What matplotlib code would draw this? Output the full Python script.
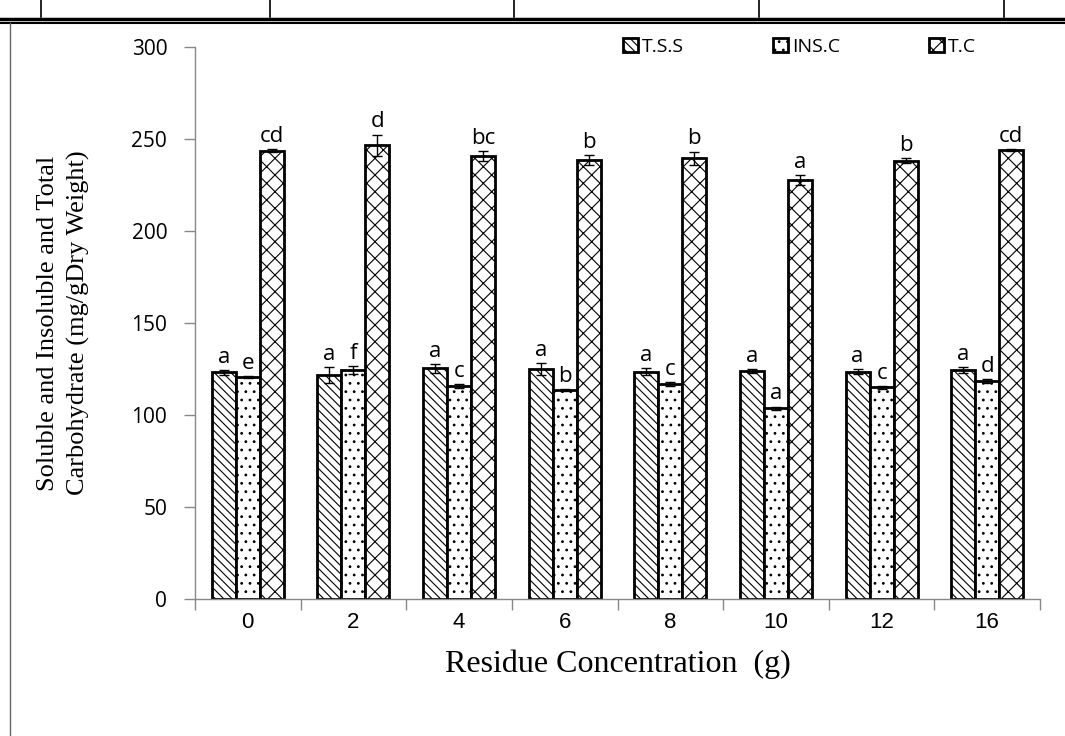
import matplotlib
matplotlib.use("Agg")
import matplotlib.pyplot as plt
import numpy as np
from matplotlib.lines import Line2D

categories = ["0", "2", "4", "6", "8", "10", "12", "16"]
tss = [123.2, 121.7, 125.4, 125.0, 123.6, 123.9, 123.6, 124.5]
tss_err = [1.3, 4.5, 2.4, 3.4, 1.8, 1.1, 1.3, 1.5]
insc = [120.8, 124.5, 115.9, 113.6, 116.7, 103.6, 115.0, 118.5]
insc_err = [0.5, 2.2, 1.0, 0.6, 1.0, 1.0, 0.7, 1.0]
tc = [243.7, 246.6, 240.9, 238.6, 239.5, 227.7, 238.2, 244.0]
tc_err = [1.0, 5.8, 2.7, 2.7, 3.6, 2.7, 1.3, 0.5]
tss_letters = ["a"] * 8
insc_letters = ["e", "f", "c", "b", "c", "a", "c", "d"]
tc_letters = ["cd", "d", "bc", "b", "b", "a", "b", "cd"]
series_names = ["T.S.S", "INS.C", "T.C"]

plt.rcParams['hatch.linewidth'] = 0.8
fig = plt.figure(figsize=(10.65, 7.36), dpi=100)
ax = fig.add_axes([195/1065, 1 - 599/736, 845/1065, 552/736])

x = np.arange(len(categories))
w = 0.227
hatches = ['\\\\\\\\', '..', 'xx']
series = [(tss, tss_err, tss_letters), (insc, insc_err, insc_letters), (tc, tc_err, tc_letters)]
for i, (vals, errs, letters) in enumerate(series):
    pos = x + (i - 1) * w
    ax.bar(pos, vals, w, color='white', edgecolor='black', linewidth=2,
           hatch=hatches[i], label=series_names[i], zorder=2)
    ax.errorbar(pos, vals, yerr=errs, fmt='none', ecolor='black', elinewidth=1,
                capsize=3.5, capthick=1, zorder=3)
    for p, v, e, l in zip(pos, vals, errs, letters):
        ax.text(p, v + e + 1.2, l, ha='center', va='bottom', fontsize=16,
                family='Open Sans', color='black')

ax.set_xlim(-0.5, len(categories) - 0.5)
ax.set_ylim(0, 300)
ax.set_yticks([0, 50, 100, 150, 200, 250, 300])
ax.set_xticks(x)
ax.set_xticklabels(categories, family='Liberation Sans', fontsize=16)
ax.set_xticks(np.arange(-0.5, len(categories), 1.0), minor=True)
ax.tick_params(axis='x', which='major', length=0, pad=9)
ax.tick_params(axis='x', which='minor', length=8, direction='out', color='#888888', width=1)
ax.tick_params(axis='y', length=8, direction='out', color='#888888', width=1, labelsize=15, pad=12)
for t in ax.get_yticklabels():
    t.set_family('Open Sans')
for s in ['top', 'right']:
    ax.spines[s].set_visible(False)
for s in ['left', 'bottom']:
    ax.spines[s].set_color('#888888')
    ax.spines[s].set_linewidth(1)

ax.set_ylabel("Soluble and Insoluble and Total\nCarbohydrate (mg/gDry Weight)",
              family='Liberation Serif', fontsize=19, labelpad=30, linespacing=1.45)
ax.set_xlabel("Residue Concentration  (g)", family='Liberation Serif', fontsize=23, labelpad=12)

leg = ax.legend(loc='center right', bbox_to_anchor=(0.945, 1.0), ncol=3, frameon=False,
                prop={'family': 'Open Sans', 'size': 14}, handlelength=0.75, handleheight=0.75,
                columnspacing=4.6, handletextpad=0.2)

# table borders of the source document
fig.add_artist(Line2D([0, 1], [1 - 19/736, 1 - 19/736], color='black', lw=2.5))
fig.add_artist(Line2D([0, 1], [1 - 23/736, 1 - 23/736], color='black', lw=1.5))
for xv in [41, 270, 514, 759, 1004]:
    fig.add_artist(Line2D([xv/1065, xv/1065], [1 - 17/736, 1], color='black', lw=1.2))
fig.add_artist(Line2D([9.5/1065, 9.5/1065], [0, 1 - 23/736], color='#666666', lw=1))

fig.savefig("out.png", dpi=100)
